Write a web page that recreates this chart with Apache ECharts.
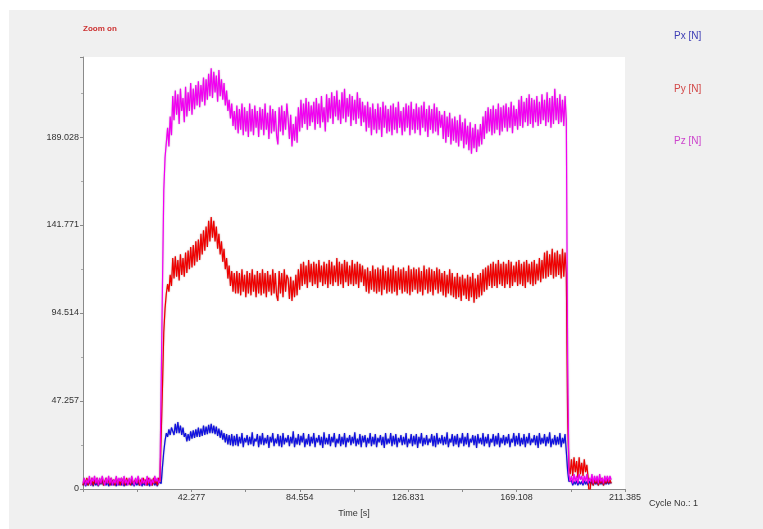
<!DOCTYPE html>
<html>
<head>
<meta charset="utf-8">
<script src="https://cdn.jsdelivr.net/npm/echarts@6/dist/echarts.min.js"></script>
<style>
html,body{margin:0;padding:0;background:#fff;}
#bg{position:absolute;left:9px;top:10px;width:754px;height:519px;background:#f0f0f0;}
#chart{position:absolute;left:0;top:0;width:763px;height:529px;}
</style>
</head>
<body>
<div id="bg"></div>
<div id="chart"></div>
<script>
// sample step of the recorded signals [s]
const sampleStep = 0.5;
const xTickStep = 42.277;
const xMax = 211.385;
const yTickStep = 47.257;
const yMax = 232;
const seriesNames = ['Px [N]', 'Py [N]', 'Pz [N]'];

const px = [
2,4,1.5,3.5,2,4.5,2,3.5,1.5,4,
2,3.5,1.5,4,2.5,4.5,2,3.5,2,4,
1.5,3.5,2,4.5,2,3.5,1.5,4,2,3.5,
2,4.5,1.5,3.5,2,4,2.5,4.5,2,3.5,
1.5,4,2,3.5,2,4.5,1.5,3.5,2,4,
2,3.5,1.5,4.5,2,4,2,3.5,1.5,4,
3,3,12,20,26,30,28,32,29,33,
34,29,35,30,36,30,34,29,33,28,
30,25.5,29.5,26,31,27,31.5,27.5,32,28,
33,28,32.5,28.5,34,29,33.5,29.5,34.5,30,
35,30,34,29.5,33.5,28.5,32.5,27.5,31.5,26.5,
30,25,29.5,24,29,23.5,29.5,23,28.5,23.5,
29.5,23,28,24.5,30,22.5,27.5,25,29,23.5,
28,24,30.5,23,27,25.5,29.5,22.5,28.5,24,
30,23.5,27.5,24.5,29,22,28,25,30,23,
27,24.5,29.5,23,28.5,22.5,30,24,27.5,25,
29,23,28,24.5,31,22.5,27.5,24,29.5,23.5,
28.5,25,30,22.5,27,24,29.5,23,28,24.5,
30,22.5,27.5,25,29,23.5,28,22,30.5,24,
27.5,24,29.5,23,28,25,30,22.5,27,24.5,
29.5,23,28,24,30,22.5,27.5,25,29,23.5,
28,24.5,30.5,23,27,24,29.5,22.5,28.5,25,
29,22.5,27.5,24.5,30,23,28,24,29.5,22.5,
27.5,25,29,23.5,28,22,30,24,27,24.5,
30,23,28.5,24,29.5,22.5,27.5,25,29,23.5,
28,24,30,22.5,27,24.5,29.5,23,28.5,24,
29.5,22,28,24.5,30,23,27.5,24,29,23.5,
27,25,29.5,23,28.5,22.5,30,24,27.5,24.5,
29,23.5,28,24,30.5,22.5,27,25,29.5,23,
28.5,24,29.5,22.5,27.5,24.5,30,23,28,24,
30,22.5,27,25,29,23.5,28.5,22,29.5,24.5,
27.5,24,30,23,28,24.5,29.5,22.5,27,25,
29.5,23,28.5,24,30,22.5,27.5,24.5,29,23.5,
28,24.5,29.5,22.5,27,25,30,23,28.5,24,
30,23,27.5,24,29.5,22.5,28,24.5,30,23.5,
27,25,29,23.5,28.5,22,30,24,27.5,24.5,
29.5,23,28,24.5,30.5,22.5,27,24,29,23.5,
28,24,30,22.5,27.5,24.5,29.5,20,10,4,
3,4.5,2,4,2.5,4.5,2,4,2.5,4,
2,4.5,2.5,4,2,4.5,2.5,4,2,4,
2.5,4,2,4.5,2.5,4,2,4.5,2.5,4,
2.5,4,3
];

const py = [
2,5,3,6,2,5,3,6,2,5,
3,6,2,5,3,6,2,4,6,3,
5,2,6,3,5,2,6,3,5,2,
6,3,5,2,6,3,5,2,6,3,
2,5,3,6,2,5,3,6,3,5,
2,6,3,5,2,6,3,5,2,6,
4,3,55,84,97,105,110,106,115,109,
124,113,125,114,123,112,126,115,124,114,
127,116,128,118,130,119,131,120,133,122,
134,123,137,126,139,128,141,130,144,133,
146,135,144,133,141,129,137,126,133,122,
129,118,124,113,120,109,117,106,116,105,
117,105,116,104,118,106,115,103,117,105,
116,104,118,106,115,103,117,105,116,104,
118,105,116,103,117,106,115,104,118,105,
116,104,101,117,105,116,103,118,106,115,
113,102,114,101,112,103,115,104,118,107,
121,109,122,110,120,108,123,111,121,109,
122,110,121,108,123,111,120,109,122,110,
121,108,123,110,122,109,120,111,124,109,
122,110,121,108,123,111,122,109,120,110,
123,109,121,110,122,108,121,111,120,109,
118,106,119,105,117,107,120,106,118,105,
119,106,118,104,120,107,117,105,119,106,
118,105,120,106,117,104,119,107,118,105,
119,106,117,105,120,104,118,106,119,107,
118,105,119,106,117,104,120,107,118,105,
119,106,118,104,117,107,119,105,118,106,
116,104,117,103,115,105,118,104,116,103,
114,102,116,103,114,101,115,104,113,102,
115,101,114,103,116,100,113,102,115,103,
116,104,118,106,119,107,120,109,121,108,
122,109,121,108,123,110,121,109,122,108,
121,110,123,108,122,109,120,111,122,109,
123,110,121,109,122,108,123,111,121,110,
122,109,123,110,121,112,124,111,123,113,
127,113,128,114,126,115,129,113,127,114,
128,115,126,113,129,114,127,116,40,12,
8,16,7,17,9,15,6,17,8,14,
7,16,9,13,6,-5,3,6,2,5,
3,6,2,5,3,6,2,5,3,6,
3,5,3
];

const pz = [
3,6,2,5,3,7,2,6,4,7,
3,6,2,6,3,7,4,2,6,3,
7,3,6,2,5,3,7,2,6,4,
6,2,7,3,5,2,6,3,7,4,
2,6,3,7,4,2,6,3,5,2,
7,3,6,2,5,3,7,4,6,3,
5,4,110,160,178,186,194,184,200,190,
211,198,214,201,212,196,215,203,210,197,
216,200,213,203,218,201,215,204,217,206,
219,205,217,208,221,206,220,209,223,211,
226,210,224,213,222,208,225,211,220,209,
218,206,214,203,209,199,207,195,203,193,
206,191,204,193,207,190,205,192,203,189,
207,192,204,190,206,194,203,189,205,193,
204,190,207,193,202,188,206,191,204,192,
203,190,185,205,192,206,190,203,193,207,
199,188,201,184,196,187,200,186,205,192,
209,194,207,196,210,193,208,195,206,197,
208,193,210,196,207,194,211,197,205,192,
212,197,210,199,213,196,211,200,214,198,
209,196,213,199,215,197,210,200,212,195,
211,198,209,196,213,199,210,195,208,197,
206,192,208,194,205,190,207,193,204,191,
207,193,205,189,208,194,206,191,204,192,
206,190,207,193,205,191,208,194,203,190,
205,192,207,194,206,190,208,193,204,191,
207,193,205,190,206,194,208,192,204,189,
206,193,204,191,207,192,205,190,203,194,
201,188,203,186,200,189,202,185,199,187,
200,186,198,184,201,187,197,183,199,185,
195,182,197,180,194,183,196,181,193,184,
196,185,200,188,203,191,205,192,204,190,
206,191,204,193,207,190,205,192,206,194,
207,192,205,194,208,191,206,195,204,193,
209,195,211,194,208,197,210,195,212,196,
210,194,209,197,211,195,208,196,212,198,
209,195,213,197,210,194,211,196,215,198,
210,196,212,197,209,195,211,198,70,8,
4,7,3,8,4,7,3,8,5,7,
3,7,4,8,3,6,4,8,3,7,
4,7,3,8,4,6,3,7,4,7,
4,7,5
];

const seriesValues = [px, py, pz];
const seriesColors = ['#1010e0', '#f00000', '#f200f2'];
const edgeColors = ['rgba(0,0,90,0.45)', 'rgba(110,0,0,0.45)', 'rgba(110,0,110,0.4)'];
const legendColors = ['#3c3cb4', '#d24646', '#cc44cc'];

function toPairs(arr) { return arr.map((v, i) => [i * sampleStep, v]); }
function fmt(v) { return Math.abs(v) < 1e-9 ? '0' : v.toFixed(3); }

const chart = echarts.init(document.getElementById('chart'), null, {renderer: 'canvas'});
const FONT = '"Liberation Sans", Arial, sans-serif';

const graphics = [
  {type: 'text', style: {x: 83, y: 29, text: 'Zoom on', fill: '#cc3030', font: 'bold 8px ' + FONT, textVerticalAlign: 'middle'}},
  {type: 'text', style: {x: 649, y: 504, text: 'Cycle No.: 1', fill: '#333', font: '9px ' + FONT, textVerticalAlign: 'middle'}}
];
const legendY = [36.5, 89.5, 141];
seriesNames.forEach((n, k) => {
  graphics.push({type: 'text', style: {x: 674, y: legendY[k], text: n, fill: legendColors[k], font: '10px ' + FONT, textVerticalAlign: 'middle'}});
});

chart.setOption({
  animation: false,
  backgroundColor: 'transparent',
  grid: {left: 83, top: 57, right: 138, bottom: 40, show: true, backgroundColor: '#ffffff', borderWidth: 0},
  xAxis: {
    type: 'value', min: 0, max: xMax, interval: xTickStep,
    name: 'Time [s]', nameLocation: 'middle', nameGap: 20,
    nameTextStyle: {color: '#333', fontSize: 9, fontFamily: FONT},
    axisLine: {lineStyle: {color: '#8a8a8a'}},
    axisTick: {show: true, length: 3, lineStyle: {color: '#8a8a8a'}},
    minorTick: {show: true, splitNumber: 2, length: 3, lineStyle: {color: '#8a8a8a'}},
    splitLine: {show: false},
    axisLabel: {showMinLabel: false, formatter: fmt, color: '#333', fontSize: 9, fontFamily: FONT, margin: 4}
  },
  yAxis: {
    type: 'value', min: 0, max: yMax, interval: yTickStep,
    axisLine: {show: true, lineStyle: {color: '#8a8a8a'}},
    axisTick: {show: true, length: 3, lineStyle: {color: '#8a8a8a'}},
    minorTick: {show: true, splitNumber: 2, length: 2, lineStyle: {color: '#aaaaaa'}},
    splitLine: {show: false},
    axisLabel: {showMaxLabel: false, formatter: fmt, color: '#333', fontSize: 9, fontFamily: FONT, margin: 4}
  },
  graphic: graphics,
  series: seriesNames.map((n, k) => ({
    name: n, type: 'line', data: toPairs(seriesValues[k]),
    showSymbol: false, symbol: 'none',
    lineStyle: {color: seriesColors[k], width: 1.2, shadowColor: edgeColors[k], shadowBlur: 1.5},
    itemStyle: {color: seriesColors[k]},
    z: 2 + k
  }))
});
</script>
</body>
</html>
